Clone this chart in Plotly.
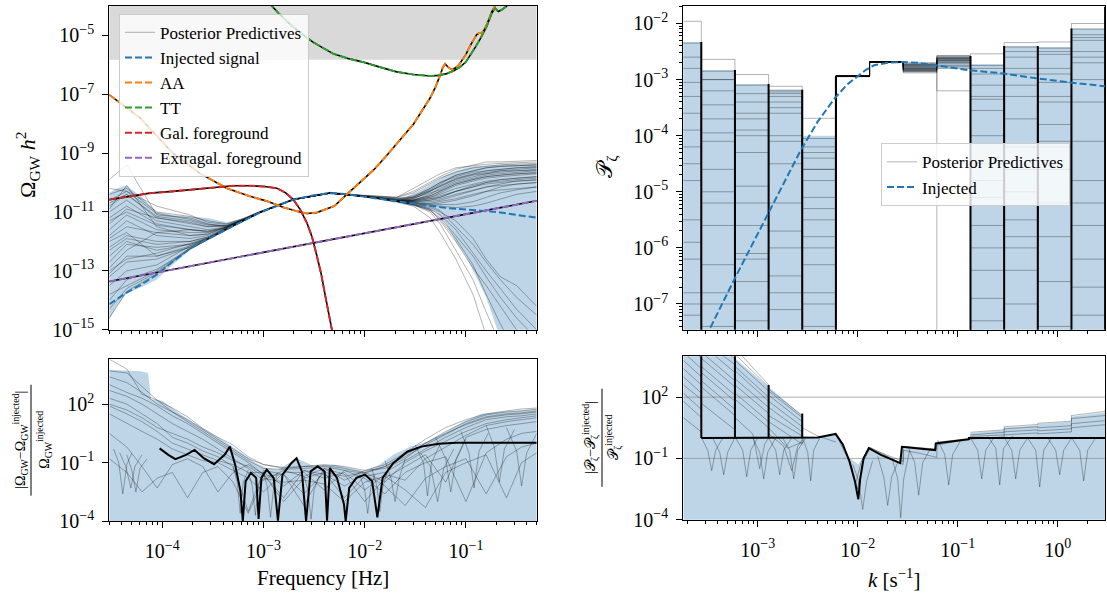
import plotly.graph_objects as go

W, H = 1107, 594
FONT = "Liberation Serif"

BLUE, ORANGE, GREEN, RED, PURPLE = "#1f77b4", "#ff7f0e", "#2ca02c", "#d62728", "#9467bd"
BAND = "rgb(189,213,231)"
SAMPLE = "rgba(0,0,0,0.3)"
SHADE = "rgb(217,217,217)"

# ---------------- Omega_GW h^2 panel (log10 values) ----------------
F_LO, F_HI = 3e-5, 0.5
OMEGA_SENS = 1.47e-6          # lower edge of the shaded region

inj_logf = [-4.523, -4.351, -4.2, -4.055, -3.9, -3.726, -3.55, -3.363, -3.2, -3.034, -2.85, -2.705,
            -2.5, -2.342, -2.2, -2.013, -1.85, -1.683, -1.5, -1.354, -1.2, -1.025, -0.85, -0.695, -0.5, -0.301]
inj_logO = [-14.13, -13.74, -13.45, -13.13, -12.7, -12.24, -11.92, -11.58, -11.3, -11.02, -10.76, -10.58,
            -10.43, -10.36, -10.39, -10.47, -10.55, -10.63, -10.72, -10.8, -10.86, -10.91, -10.96, -11.0, -11.1, -11.19]

aa_logf = [-4.523, -4.22, -3.89, -3.627, -3.363, -3.15, -2.968, -2.8, -2.639, -2.57, -2.474, -2.3, -2.177,
           -2.05, -1.914, -1.8, -1.683, -1.519, -1.354, -1.3, -1.255, -1.23, -1.206, -1.17, -1.14, -1.1,
           -1.074, -1.0, -0.959, -0.893, -0.87, -0.843, -0.82, -0.794, -0.744, -0.712, -0.68]
aa_logO = [-7.02, -7.8, -9.02, -9.69, -10.19, -10.45, -10.63, -10.85, -11.0, -11.05, -11.02, -10.8, -10.4,
           -10.0, -9.58, -9.15, -8.69, -8.02, -7.13, -6.75, -6.36, -6.1, -5.97, -6.1, -6.16, -6.1,
           -6.02, -5.65, -5.36, -4.97, -4.92, -4.91, -4.82, -4.63, -4.19, -4.0, -3.8]

tt_logf = [-2.95, -2.918, -2.85, -2.737, -2.62, -2.507, -2.4, -2.309, -2.15, -2.013, -1.85, -1.683, -1.52,
           -1.354, -1.27, -1.189, -1.12, -1.058, -1.0, -0.959, -0.91, -0.86, -0.794, -0.744, -0.712,
           -0.68, -0.645, -0.596, -0.56]
tt_logO = [-3.9, -4.0, -4.25, -4.63, -4.95, -5.24, -5.45, -5.63, -5.8, -5.91, -6.08, -6.24, -6.33,
           -6.38, -6.36, -6.3, -6.2, -6.08, -5.9, -5.69, -5.42, -5.13, -4.69, -4.24, -4.08,
           -4.19, -4.13, -4.0, -3.8]

gal_logf = [-4.523, -4.3, -4.121, -3.9, -3.627, -3.45, -3.298, -3.1, -2.97, -2.869, -2.78, -2.705, -2.64,
            -2.572, -2.52, -2.474, -2.43, -2.392, -2.325, -2.29]
gal_logO = [-10.58, -10.47, -10.36, -10.3, -10.22, -10.16, -10.11, -10.11, -10.14, -10.19, -10.35, -10.58,
            -10.9, -11.36, -11.85, -12.47, -13.1, -13.8, -14.97, -15.6]

exg_logf = [-4.523, -0.301]
exg_logO = [-13.36, -10.62]

band_logf = [-4.523, -4.45, -4.351, -4.2, -4.055, -3.9, -3.726, -3.55, -3.363, -3.2, -3.034, -2.8, -2.6,
             -2.4, -2.2, -2.0, -1.8, -1.6, -1.45, -1.3, -1.2, -1.1, -1.0, -0.9, -0.8, -0.7, -0.6, -0.45, -0.301]
band_up = [-10.35, -10.2, -10.1, -10.5, -11.0, -11.1, -11.15, -11.2, -11.35, -11.22, -10.98, -10.68, -10.48,
           -10.35, -10.36, -10.45, -10.5, -10.5, -10.25, -9.95, -9.75, -9.6, -9.5, -9.45, -9.42, -9.4,
           -9.38, -9.38, -9.36]
band_lo = [-14.65, -14.2, -13.75, -13.55, -13.3, -12.8, -12.3, -11.95, -11.6, -11.32, -11.04, -10.73, -10.52,
           -10.39, -10.4, -10.49, -10.62, -10.75, -10.85, -11.0, -11.4, -12.0, -12.5, -13.2, -13.9, -14.9,
           -16.0, -17.0, -17.0]

pp_logf = [-4.523, -4.351, -4.055, -3.726, -3.55, -3.363, -3.2, -3.034, -2.705, -2.342, -2.013, -1.683,
           -1.52, -1.354, -1.255, -1.1, -0.93, -0.8, -0.66, -0.5, -0.301]
pp_logO = [
    [-10.4, -10.2, -11.0, -11.15, -11.3, -11.4, -11.22, -10.98, -10.55, -10.33, -10.43, -10.5, -10.2, -9.9, -9.7, -9.5, -9.42, -9.38, -9.35, -9.32, -9.3],
    [-11.0, -10.6, -11.3, -11.5, -11.6, -11.5, -11.25, -11.0, -10.57, -10.35, -10.45, -10.55, -10.45, -10.2, -10.0, -9.8, -9.65, -9.6, -9.55, -9.5, -9.45],
    [-11.8, -11.3, -11.8, -11.9, -11.8, -11.55, -11.28, -11.01, -10.58, -10.36, -10.46, -10.6, -10.6, -10.5, -10.35, -10.1, -9.95, -9.85, -9.8, -9.75, -9.7],
    [-12.5, -12.0, -12.3, -12.1, -11.9, -11.57, -11.29, -11.02, -10.58, -10.36, -10.47, -10.62, -10.68, -10.72, -10.7, -10.6, -10.45, -10.3, -10.15, -10.05, -10.0],
    [-13.2, -12.7, -12.6, -12.2, -11.92, -11.58, -11.3, -11.02, -10.58, -10.36, -10.47, -10.63, -10.7, -10.78, -10.8, -10.85, -10.8, -10.7, -10.55, -10.4, -10.3],
    [-14.0, -13.3, -12.95, -12.25, -11.93, -11.58, -11.3, -11.02, -10.58, -10.36, -10.47, -10.64, -10.74, -10.9, -11.1, -11.6, -12.4, -13.0, -13.6, -14.3, -15.0],
    [-14.6, -13.7, -13.1, -12.26, -11.94, -11.59, -11.31, -11.02, -10.58, -10.36, -10.47, -10.65, -10.8, -11.2, -11.7, -12.6, -13.8, -15.2, -16.5, -17.5, -18.0],
    [-12.0, -11.7, -12.5, -12.2, -11.9, -11.57, -11.3, -11.02, -10.58, -10.36, -10.47, -10.63, -10.72, -10.9, -11.3, -12.0, -12.9, -13.5, -14.2, -15.0, -15.5],
    [-10.9, -10.1, -11.5, -11.8, -11.75, -11.5, -11.27, -11.01, -10.58, -10.36, -10.47, -10.6, -10.55, -10.3, -10.15, -9.9, -9.75, -9.7, -9.6, -9.6, -9.55],
    [-13.5, -13.0, -12.8, -12.15, -11.9, -11.57, -11.3, -11.02, -10.58, -10.36, -10.47, -10.64, -10.76, -11.0, -11.4, -12.3, -13.3, -14.4, -15.5, -16.5, -17.0],
    [-9.9, -9.4, -11.1, -11.2, -11.4, -11.5, -11.25, -11.0, -10.57, -10.35, -10.44, -10.5, -10.3, -10.0, -9.8, -9.55, -9.4, -9.3, -9.3, -9.28, -9.25],
    [-12.9, -12.3, -11.7, -11.6, -11.65, -11.52, -11.28, -11.01, -10.58, -10.36, -10.47, -10.61, -10.62, -10.55, -10.5, -10.3, -10.15, -10.0, -9.9, -9.85, -9.8],
    [-11.4, -10.9, -11.2, -11.35, -11.5, -11.45, -11.24, -10.99, -10.57, -10.35, -10.46, -10.58, -10.52, -10.35, -10.25, -10.0, -9.85, -9.75, -9.7, -9.65, -9.6],
    [-13.8, -13.5, -13.0, -12.23, -11.92, -11.58, -11.3, -11.02, -10.58, -10.36, -10.47, -10.64, -10.73, -10.85, -11.0, -11.3, -11.9, -12.6, -13.2, -13.5, -14.2],
    [-10.7, -10.4, -11.15, -11.3, -11.45, -11.47, -11.26, -11.0, -10.57, -10.35, -10.45, -10.56, -10.5, -10.25, -10.05, -9.75, -9.6, -9.5, -9.45, -9.42, -9.4],
    [-11.6, -11.1, -11.6, -11.7, -11.7, -11.52, -11.27, -11.01, -10.58, -10.36, -10.46, -10.59, -10.58, -10.45, -10.3, -10.05, -9.9, -9.8, -9.75, -9.7, -9.65],
    [-12.2, -11.8, -12.0, -12.0, -11.85, -11.56, -11.29, -11.02, -10.58, -10.36, -10.47, -10.61, -10.64, -10.6, -10.5, -10.3, -10.1, -10.0, -9.95, -9.9, -9.85],
    [-10.2, -10.3, -10.8, -11.1, -11.35, -11.42, -11.23, -10.99, -10.56, -10.34, -10.44, -10.52, -10.35, -10.05, -9.85, -9.65, -9.5, -9.45, -9.4, -9.37, -9.35],
    [-13.0, -12.6, -12.4, -12.05, -11.88, -11.57, -11.3, -11.02, -10.58, -10.36, -10.47, -10.63, -10.69, -10.74, -10.75, -10.75, -10.65, -10.5, -10.35, -10.25, -10.15],
    [-11.2, -10.8, -11.4, -11.6, -11.68, -11.53, -11.28, -11.01, -10.58, -10.36, -10.46, -10.57, -10.48, -10.28, -10.12, -9.88, -9.72, -9.65, -9.6, -9.55, -9.5],
    [-12.7, -12.1, -12.2, -12.1, -11.88, -11.56, -11.29, -11.02, -10.58, -10.36, -10.47, -10.62, -10.66, -10.65, -10.6, -10.45, -10.3, -10.15, -10.05, -9.95, -9.9],
    [-14.3, -13.6, -13.05, -12.25, -11.93, -11.58, -11.3, -11.02, -10.58, -10.36, -10.47, -10.64, -10.75, -10.95, -11.25, -11.9, -12.8, -13.8, -14.8, -15.8, -16.5],
]
# partial draws: high-frequency fan and low-frequency fan
pp_hi_logf = [-1.683, -1.52, -1.354, -1.255, -1.1, -0.93, -0.8, -0.66, -0.5, -0.301]
pp_hi_logO = [
    [-10.63, -10.6, -10.4, -10.2, -9.95, -9.8, -9.7, -9.65, -9.6, -9.58],
    [-10.62, -10.55, -10.3, -10.1, -9.85, -9.7, -9.6, -9.55, -9.5, -9.48],
    [-10.63, -10.62, -10.5, -10.4, -10.2, -10.05, -9.95, -9.9, -9.85, -9.8],
    [-10.63, -10.66, -10.6, -10.55, -10.4, -10.25, -10.15, -10.1, -10.05, -10.0],
    [-10.64, -10.7, -10.7, -10.65, -10.55, -10.4, -10.3, -10.25, -10.2, -10.15],
    [-10.62, -10.5, -10.2, -10.0, -9.75, -9.6, -9.5, -9.45, -9.42, -9.4],
    [-10.63, -10.64, -10.55, -10.45, -10.3, -10.15, -10.05, -10.0, -9.95, -9.92],
    [-10.64, -10.75, -10.95, -11.2, -11.8, -12.5, -13.2, -13.9, -14.6, -15.3],
    [-10.64, -10.72, -10.8, -10.95, -11.5, -12.1, -12.7, -13.3, -13.9, -14.5],
    [-10.63, -10.6, -10.45, -10.3, -10.05, -9.9, -9.8, -9.75, -9.7, -9.68],
]
pp_lo_logf = [-4.523, -4.351, -4.055, -3.726, -3.55, -3.363, -3.2, -3.034]
pp_lo_logO = [
    [-10.8, -10.4, -11.2, -11.4, -11.5, -11.48, -11.26, -11.0],
    [-11.9, -11.5, -11.7, -11.8, -11.75, -11.54, -11.28, -11.01],
    [-12.3, -11.9, -12.1, -12.0, -11.85, -11.56, -11.29, -11.02],
    [-13.1, -12.5, -12.5, -12.15, -11.9, -11.57, -11.3, -11.02],
    [-10.6, -10.3, -11.05, -11.25, -11.42, -11.46, -11.25, -11.0],
    [-11.3, -11.0, -11.45, -11.6, -11.65, -11.52, -11.28, -11.01],
]

# ---------------- Omega_GW relative residual (log10 values) ----------------
blr_band_logf = [-4.523, -4.216, -4.14, -4.11, -4.0, -3.80, -3.59, -3.38, -3.21, -3.08, -2.97, -2.86, -2.67,
                 -2.5, -2.3, -2.0, -1.85, -1.72, -1.55, -1.38, -1.2, -1.03, -0.85, -0.68, -0.3]
blr_band_up = [3.76, 3.68, 3.6, 2.25, 2.17, 1.41, 0.74, 0.07, -0.52, -1.0, -1.28, -1.36, -0.77,
               -1.19, -1.1, -1.45, -1.1, -0.6, -0.18, 0.07, 0.57, 1.08, 1.5, 1.58, 1.75]

blr_med_logf = [-4.026, -3.94, -3.87, -3.765, -3.68, -3.59, -3.488, -3.384, -3.332, -3.28, -3.228, -3.204,
                -3.176, -3.124, -3.072, -3.048, -3.02, -2.968, -2.899, -2.857, -2.812, -2.725, -2.673,
                -2.621, -2.579, -2.534, -2.465, -2.396, -2.372, -2.344, -2.274, -2.205, -2.188, -2.153,
                -2.083, -1.997, -1.927, -1.875, -1.823, -1.719, -1.58, -1.442, -1.268, -1.095, -0.301]
blr_med_logR = [-0.27, -0.6, -0.82, -0.6, -0.35, -0.77, -1.08, -0.6, -0.18, -1.1, -2.45, -4.0,
                -1.95, -1.53, -1.78, -3.88, -1.78, -1.36, -1.78, -3.97, -1.61, -1.03, -0.77,
                -1.45, -4.0, -1.45, -1.19, -1.45, -3.97, -1.28, -1.78, -3.13, -4.0, -2.29,
                -1.78, -1.61, -1.95, -3.8, -1.78, -1.03, -0.44, -0.18, -0.03, 0.02, 0.02]

blr_logf = [-4.523, -4.35, -4.2, -4.05, -3.9, -3.75, -3.6, -3.45, -3.3, -3.15, -3.0, -2.8, -2.6, -2.4,
            -2.2, -2.0, -1.8, -1.6, -1.4, -1.2, -1.0, -0.8, -0.6, -0.45, -0.301]
blr_logR = [
    [3.7, 3.6, 2.9, 2.2, 1.8, 1.35, 0.75, 0.3, -0.1, -0.7, -1.1, -1.3, -1.2, -1.15, -1.3, -1.5, -1.2, -0.6, 0.0, 0.6, 1.1, 1.45, 1.6, 1.65, 1.75],
    [3.0, 2.6, 2.3, 1.9, 1.4, 1.0, 0.5, 0.0, -0.5, -1.0, -1.6, -3.0, -1.8, -1.5, -2.8, -1.7, -1.5, -0.9, -0.3, 0.3, 0.8, 1.2, 1.35, 1.4, 1.5],
    [2.3, 2.0, 1.5, 1.0, 0.3, 0.0, -0.4, -0.7, -1.2, -3.5, -1.4, -1.6, -3.2, -1.3, -1.6, -3.0, -1.8, -1.2, -0.6, -2.0, 0.3, 0.7, 0.9, 1.0, 1.1],
    [1.5, 1.0, 0.6, 0.2, -0.3, -0.6, -0.9, -1.0, -1.4, -1.8, -2.5, -1.5, -1.5, -2.4, -1.4, -1.8, -2.6, -1.5, -1.0, -0.7, -3.0, -0.5, 0.2, 0.5, 0.6],
    [0.5, -0.2, -1.2, -2.3, -1.1, -0.8, -1.2, -2.5, -1.5, -1.1, -1.6, -2.8, -1.4, -1.6, -2.2, -1.6, -2.2, -3.2, -1.8, -1.2, -0.8, -2.6, -0.7, -0.2, 0.0],
    [-0.8, -1.5, -2.5, -1.8, -1.5, -2.8, -1.5, -1.2, -2.0, -3.6, -1.8, -2.0, -1.9, -2.1, -3.0, -2.0, -1.7, -2.4, -3.3, -1.5, -1.0, -0.6, -2.8, -1.0, -0.5],
    [4.3, 3.8, 2.5, 2.2, 1.6, 1.2, 0.7, 0.2, -0.3, -0.8, -1.1, -1.25, -1.2, -1.1, -1.2, -1.4, -1.1, -0.5, 0.2, 0.8, 1.2, 1.5, 1.65, 1.75, 1.8],
    [2.7, 2.4, 2.0, 1.5, 1.0, 0.6, 0.2, -0.3, -0.8, -1.3, -1.9, -1.4, -1.7, -1.3, -1.9, -1.4, -1.3, -0.8, 0.0, 0.5, 0.95, 1.3, 1.45, 1.5, 1.6],
    [1.9, 1.5, 1.1, 0.6, 0.0, -0.3, -0.6, -0.9, -1.1, -1.5, -1.5, -2.2, -1.4, -1.8, -1.5, -2.4, -1.6, -1.9, -0.8, -0.2, 0.4, 0.9, 1.1, 1.2, 1.3],
    [3.4, 3.1, 2.6, 2.0, 1.6, 1.1, 0.6, 0.1, -0.4, -0.9, -1.3, -1.35, -1.3, -1.2, -1.4, -1.55, -1.2, -0.7, -0.1, 0.45, 1.0, 1.35, 1.5, 1.55, 1.65],
    [2.0, 1.7, 1.3, 0.8, 0.5, 0.2, -0.2, -0.5, -0.9, -1.2, -1.7, -1.6, -2.6, -1.5, -1.7, -1.5, -2.0, -1.0, -0.4, 0.1, 0.6, 1.0, 1.2, 1.3, 1.4],
]
blr_arcs = [
    [(-4.48, -0.3), (-4.43, -1.0), (-4.39, -2.6), (-4.35, -1.1), (-4.3, -0.5)],
    [(-4.42, -0.5), (-4.36, -1.2), (-4.31, -2.3), (-4.27, -1.2), (-4.2, -0.6)],
    [(-4.35, -0.6), (-4.30, -1.4), (-4.26, -2.5), (-4.22, -1.3), (-4.15, -0.8)],
    [(-3.30, -1.2), (-3.26, -2.0), (-3.23, -3.6), (-3.2, -2.0), (-3.15, -1.4)],
    [(-3.15, -1.5), (-3.11, -2.2), (-3.08, -3.7), (-3.05, -2.2), (-3.0, -1.5)],
    [(-3.0, -1.5), (-2.96, -2.3), (-2.93, -3.8), (-2.9, -2.3), (-2.86, -1.5)],
    [(-2.6, -1.7), (-2.56, -2.4), (-2.53, -3.9), (-2.5, -2.4), (-2.45, -1.7)],
    [(-2.05, -1.6), (-2.0, -2.4), (-1.97, -3.6), (-1.94, -2.3), (-1.9, -1.6)],
    [(-1.93, -1.3), (-1.88, -2.2), (-1.85, -3.5), (-1.82, -2.2), (-1.76, -1.2)],
    [(-1.8, -0.9), (-1.74, -1.8), (-1.7, -3.0), (-1.66, -1.8), (-1.6, -0.8)],
    [(-1.5, -0.1), (-1.42, -1.0), (-1.38, -2.7), (-1.34, -1.0), (-1.25, 0.0)],
    [(-1.45, -0.5), (-1.35, -1.2), (-1.28, -3.0), (-1.22, -1.3), (-1.12, -0.3)],
    [(-1.3, 0.3), (-1.2, -0.8), (-1.15, -2.5), (-1.1, -0.9), (-1.0, 0.2)],
    [(-1.05, 0.6), (-0.97, -0.5), (-0.92, -2.3), (-0.87, -0.4), (-0.78, 0.5)],
    [(-0.8, 0.9), (-0.72, -0.2), (-0.67, -2.0), (-0.62, -0.3), (-0.52, 0.7)],
    [(-0.6, 0.8), (-0.5, -0.4), (-0.45, -2.2), (-0.4, -0.5), (-0.3, 0.5)],
]

# ---------------- P_zeta panel (log10 values) ----------------
K_LO_LOG, K_HI_LOG = -3.744, 0.473
k_edges = [-3.90, -3.564, -3.2275, -2.891, -2.5545, -2.218, -1.8815, -1.545, -1.2085, -0.872,
           -0.5355, -0.199, 0.1375, 0.474, 0.60]
pz_band_up = [-2.33, -2.83, -3.08, -3.18, -4.0, -2.93, -2.68, -2.70, -2.58, -2.72, -2.40, -2.42, -2.09, -2.0]
pz_band_lo = [-9.0, -9.0, -9.0, -9.0, -9.0, -2.95, -2.70, -2.87, -2.80, -9.0, -9.0, -9.0, -9.0, -9.0]
pz_samples = [
    [-1.96, -2.64, -2.91, -3.12, -3.69, -2.94, -2.68, -2.70, -2.57, -2.54, -2.34, -2.33, -2.00, -1.8],
    [-2.35, -2.85, -3.10, -3.19, -4.05, -2.93, -2.69, -2.74, -2.62, -2.75, -2.42, -2.44, -2.10, -2.1],
    [-3.05, -3.95, -5.20, -3.50, -4.80, -2.94, -2.68, -2.85, -2.80, -3.55, -4.20, -3.05, -2.60, -2.5],
    [-4.20, -3.45, -4.30, -6.00, -5.50, -2.94, -2.69, -2.80, -2.62, -4.50, -3.30, -5.20, -3.40, -3.0],
    [-5.50, -6.30, -3.70, -4.50, -6.80, -2.93, -2.69, -2.72, -2.60, -6.00, -5.50, -2.80, -4.80, -5.0],
    [-6.80, -5.00, -6.60, -5.20, -4.30, -2.94, -2.69, -2.88, -2.75, -5.10, -6.40, -4.10, -6.20, -3.5],
    [-7.20, -7.00, -6.10, -7.10, -5.80, -2.95, -2.68, -2.78, -2.66, -6.90, -2.90, -6.60, -5.60, -6.0],
    [-8.50, -9.00, -8.00, -8.20, -9.00, -2.94, -2.69, -2.83, -2.58, -8.50, -9.00, -8.30, -8.80, -8.0],
    [-3.60, -4.60, -4.00, -3.30, -6.30, -2.94, -2.68, -2.74, -2.70, -3.10, -5.00, -3.80, -2.30, -4.0],
    [-6.20, -5.60, -7.30, -6.50, -7.40, -2.93, -2.69, -2.81, -9.00, -7.30, -7.00, -7.40, -7.20, -7.0],
    [-2.80, -3.20, -3.40, -3.25, -4.40, -2.94, -2.68, -2.76, -2.64, -2.90, -2.60, -2.55, -2.25, -2.4],
    [-4.80, -4.10, -5.60, -4.00, -5.10, -2.94, -2.69, -2.86, -2.72, -4.00, -3.70, -4.60, -4.10, -4.5],
    [-5.90, -6.80, -4.90, -5.70, -6.00, -2.93, -2.68, -2.79, -2.68, -5.60, -4.60, -5.80, -3.00, -5.5],
    [-7.00, -7.40, -7.00, -4.10, -7.00, -2.94, -2.69, -2.84, -2.77, -6.40, -6.00, -3.40, -6.70, -6.5],
    [-3.30, -5.20, -3.90, -3.60, -5.30, -2.94, -2.69, -2.73, -2.63, -3.35, -2.80, -4.20, -2.70, -3.2],
    [-4.50, -3.00, -6.20, -6.80, -4.60, -2.93, -2.68, -2.82, -3.20, -4.80, -5.80, -2.90, -5.20, -4.8],
    [-2.60, -3.00, -3.25, -3.22, -4.20, -2.94, -2.69, -2.77, -2.61, -2.80, -2.50, -2.50, -2.20, -2.3],
    [-8.00, -8.20, -8.50, -7.80, -8.60, -2.93, -2.68, -2.80, -2.65, -8.00, -8.40, -7.90, -8.20, -8.5],
    [-3.90, -3.70, -3.60, -3.40, -4.60, -2.94, -2.69, -2.75, -2.66, -3.30, -3.10, -3.30, -2.50, -2.8],
    [-7.80, -8.60, -7.60, -8.80, -8.20, -2.94, -2.69, -2.83, -2.69, -7.70, -8.10, -8.70, -7.90, -7.5],
]
# bin edges where many draws jump: (log10 k, log10 top of the jump)
pz_edge_tops = [(-3.564, -2.33), (-3.2275, -2.83), (-2.891, -3.08), (-2.5545, -3.18), (-2.218, -2.94),
                (-0.872, -2.58), (-0.5355, -2.40), (-0.199, -2.40), (0.1375, -2.09), (0.474, -1.7)]
pz_inj_logk = [-3.55, -3.484, -3.232, -2.901, -2.569, -2.4, -2.227, -2.1, -2.011, -1.92, -1.837, -1.7,
               -1.557, -1.4, -1.219, -0.888, -0.546, -0.214, 0.123, 0.473]
pz_inj_logP = [-7.75, -7.46, -6.555, -5.42, -4.257, -3.75, -3.326, -3.08, -2.948, -2.83, -2.745, -2.7,
               -2.686, -2.7, -2.745, -2.832, -2.89, -2.977, -3.05, -3.12]

# ---------------- P_zeta relative residual (log10 values) ----------------
pzr_band_logk = [-3.744, -3.564, -3.2275, -2.891, -2.5545, -2.5545, -2.4, -2.221, -2.1, -1.994, -1.889,
                 -1.7, -1.575, -1.558, -1.383, -1.219, -1.219, -0.888, -0.872, -0.5355, -0.5355, -0.199,
                 -0.199, 0.1375, 0.1375, 0.477]
pzr_band_up = [5.0, 5.0, 3.9, 2.5, 1.1, 0.1, 0.05, 0.2, -0.9, -1.3, -0.5, -0.9, -1.2, -0.43, -0.5, -0.58,
               -0.27, -0.05, 0.25, 0.38, 0.5, 0.62, 0.68, 0.8, 1.05, 1.25]
pzr_med = [(-3.564, 0.0), (-2.535, 0.0), (-2.4, 0.02), (-2.221, 0.2), (-2.15, -0.3), (-2.081, -1.15),
           (-2.029, -2.1), (-1.994, -3.0), (-1.975, -2.0), (-1.941, -1.0), (-1.889, -0.5), (-1.767, -0.83),
           (-1.662, -1.07), (-1.575, -1.23), (-1.558, -0.43), (-1.383, -0.51), (-1.226, -0.59),
           (-1.219, -0.27), (-0.888, -0.06), (-0.888, 0.0), (0.477, 0.0)]
pzr_edges = [(-3.564, 4.4), (-3.2275, 4.1), (-2.891, 2.6), (-2.5545, 1.2)]
pzr_lines = [
    [(-3.744, 5.0), (-3.564, 4.3), (-3.564, 5.0), (-3.2275, 3.9), (-3.2275, 4.4), (-2.891, 2.6), (-2.891, 2.4), (-2.5545, 1.1), (-2.5545, 0.5), (-2.4, 0.1), (-2.218, -0.2)],
    [(-3.744, 4.6), (-3.564, 3.9), (-3.564, 4.8), (-3.2275, 3.6), (-3.2275, 4.1), (-2.891, 2.5), (-2.891, 2.3), (-2.5545, 1.0), (-2.5545, 0.0)],
    [(-3.744, 4.2), (-3.564, 3.4), (-3.564, 4.6), (-3.2275, 3.2), (-3.2275, 3.8), (-2.891, 2.3), (-2.891, 2.1), (-2.5545, 0.8), (-2.5545, 0.0)],
    [(-3.744, 3.8), (-3.564, 3.0), (-3.564, 4.2), (-3.2275, 2.8), (-3.2275, 3.5), (-2.891, 2.0), (-2.891, 1.8), (-2.5545, 0.55), (-2.5545, 0.0)],
    [(-3.744, 3.4), (-3.564, 2.6), (-3.564, 3.9), (-3.2275, 2.5), (-3.2275, 3.3), (-2.891, 1.8), (-2.891, 1.5), (-2.5545, 0.3), (-2.5545, 0.0)],
    [(-3.744, 3.0), (-3.564, 2.2), (-3.564, 3.5), (-3.2275, 2.1), (-3.2275, 2.9), (-2.891, 1.5), (-2.891, 1.1), (-2.5545, 0.1), (-2.5545, 0.0)],
    [(-3.744, 2.6), (-3.564, 1.9), (-3.564, 3.2), (-3.2275, 1.8), (-3.2275, 2.6), (-2.891, 1.2), (-2.891, 0.8), (-2.5545, -0.3), (-2.5545, 0.0)],
    [(-3.744, 2.2), (-3.564, 1.4), (-3.564, 2.8), (-3.2275, 1.4), (-3.2275, 2.2), (-2.891, 0.8), (-2.891, 0.5), (-2.7, -0.5), (-2.5545, -0.2)],
    [(-3.744, 1.8), (-3.564, 1.0), (-3.564, 2.5), (-3.2275, 1.1), (-3.2275, 1.9), (-2.891, 0.5), (-2.891, 0.2), (-2.74, -0.4), (-2.66, -1.6), (-2.6, -0.4), (-2.5545, -0.1)],
    [(-3.744, 1.0), (-3.564, 0.3), (-3.564, 1.7), (-3.2275, 0.4), (-3.2275, 1.0), (-3.05, 0.2), (-2.98, -1.5), (-2.93, -0.3), (-2.891, 0.0)],
    [(-2.218, 0.25), (-2.1, -0.9), (-2.0, -2.5), (-1.95, -1.2), (-1.8815, -0.55), (-1.8815, -0.48), (-1.7, -0.85), (-1.545, -1.15), (-1.545, -0.4), (-1.38, -0.47), (-1.2085, -0.55), (-1.2085, -0.2), (-0.872, -0.03)],
    [(-2.218, 0.18), (-2.1, -1.0), (-2.02, -2.2), (-1.96, -1.1), (-1.8815, -0.5), (-1.8815, -0.45), (-1.7, -0.9), (-1.545, -1.3), (-1.545, -0.6), (-1.38, -0.75), (-1.2085, -0.95), (-1.2085, -0.35), (-1.05, -0.2), (-0.872, -0.08)],
    [(-0.872, 0.28), (-0.5355, 0.4), (-0.5355, 0.55), (-0.199, 0.66), (-0.199, 0.72), (0.1375, 0.82), (0.1375, 1.1), (0.474, 1.3), (0.474, 1.4)],
    [(-0.872, 0.15), (-0.5355, 0.28), (-0.5355, 0.45), (-0.199, 0.55), (-0.199, 0.5), (0.1375, 0.6), (0.1375, 0.95), (0.474, 1.1)],
    [(-0.872, 0.08), (-0.5355, 0.15), (-0.5355, 0.3), (-0.199, 0.4), (-0.199, 0.35), (0.1375, 0.45), (0.1375, 0.7), (0.474, 0.85)],
    [(-0.888, -0.06), (-0.5355, 0.05), (-0.5355, 0.15), (-0.199, 0.25), (-0.199, 0.2), (0.1375, 0.3), (0.1375, 0.5), (0.474, 0.65)],
]
pzr_arcs = [
    [(-3.56, 0.0), (-3.5, -0.6), (-3.46, -1.6), (-3.42, -0.6), (-3.35, 0.0)],
    [(-3.45, 0.0), (-3.38, -0.7), (-3.34, -1.8), (-3.3, -0.7), (-3.23, 0.0)],
    [(-3.22, 0.0), (-3.15, -0.6), (-3.11, -1.9), (-3.07, -0.6), (-3.0, 0.0)],
    [(-3.05, 0.0), (-2.98, -0.7), (-2.94, -2.0), (-2.9, -0.7), (-2.82, 0.0)],
    [(-2.89, 0.0), (-2.82, -0.6), (-2.78, -1.8), (-2.74, -0.6), (-2.66, 0.0)],
    [(-2.75, 0.0), (-2.68, -0.6), (-2.64, -2.0), (-2.6, -0.6), (-2.52, 0.0)],
    [(-2.55, 0.0), (-2.5, -0.7), (-2.47, -2.1), (-2.44, -0.6), (-2.38, 0.0)],
    [(-2.05, -1.3), (-1.99, -2.1), (-1.95, -3.5), (-1.91, -2.1), (-1.85, -1.1)],
    [(-1.8, -0.9), (-1.74, -1.9), (-1.7, -3.3), (-1.66, -1.9), (-1.6, -1.2)],
    [(-1.65, -1.1), (-1.6, -2.0), (-1.57, -3.9), (-1.54, -2.0), (-1.48, -0.6)],
    [(-1.5, -0.4), (-1.43, -1.2), (-1.39, -2.8), (-1.35, -1.2), (-1.27, -0.5)],
    [(-1.2, -0.1), (-1.13, -0.8), (-1.09, -2.3), (-1.05, -0.8), (-0.96, -0.05)],
    [(-0.87, 0.0), (-0.8, -0.6), (-0.76, -2.0), (-0.72, -0.6), (-0.64, 0.0)],
    [(-0.7, 0.1), (-0.62, -0.5), (-0.58, -2.3), (-0.54, -0.5), (-0.45, 0.1)],
    [(-0.53, 0.0), (-0.46, -0.6), (-0.42, -2.0), (-0.38, -0.6), (-0.3, 0.0)],
    [(-0.3, 0.0), (-0.22, -0.6), (-0.18, -2.4), (-0.14, -0.6), (-0.06, 0.0)],
    [(-0.1, 0.0), (-0.02, -0.6), (0.02, -1.8), (0.06, -0.6), (0.14, 0.0)],
    [(0.14, 0.0), (0.22, -0.6), (0.26, -2.1), (0.3, -0.6), (0.38, 0.0)],
]
RESID_GUIDES = [100.0, 0.1]


def pw(v):
    return [10.0 ** t for t in v]


def step_y(vals):
    return pw(vals + [vals[-1]])


fig = go.Figure()


def add(x, y, ax, color=SAMPLE, width=1.0, dash="solid", shape="linear", name=None,
        legend=None, rank=None, fill=None, fillcolor=None):
    fig.add_trace(go.Scatter(
        x=x, y=y, mode="lines", xaxis="x" + ax, yaxis="y" + ax, hoverinfo="skip",
        line=dict(color=color, width=width, dash=dash, shape=shape),
        fill=fill, fillcolor=fillcolor, name=name,
        showlegend=name is not None, legend=legend or "legend",
        legendrank=rank if rank is not None else 1000))


# ---- top-left: Omega_GW h^2 ----
add([F_LO, F_HI, F_HI, F_LO, F_LO], [OMEGA_SENS, OMEGA_SENS, 1e-3, 1e-3, OMEGA_SENS], "",
    color="rgba(0,0,0,0)", width=0, fill="toself", fillcolor=SHADE)
add(pw(band_logf), pw(band_lo), "", color="rgba(0,0,0,0)", width=0)
add(pw(band_logf), pw(band_up), "", color="rgba(0,0,0,0)", width=0, fill="tonexty", fillcolor=BAND)
for i, s in enumerate(pp_logO):
    add(pw(pp_logf), pw(s), "", name="Posterior Predictives" if i == 0 else None, rank=1)
for s in pp_hi_logO:
    add(pw(pp_hi_logf), pw(s), "")
for s in pp_lo_logO:
    add(pw(pp_lo_logf), pw(s), "")
for lf, lo in [(aa_logf, aa_logO), (tt_logf, tt_logO), (gal_logf, gal_logO), (exg_logf, exg_logO)]:
    add(pw(lf), pw(lo), "", color="black", width=1.6)
DASH = "7px,3px"
add(pw(inj_logf), pw(inj_logO), "", color=BLUE, width=2, dash=DASH, name="Injected signal", rank=2)
add(pw(aa_logf), pw(aa_logO), "", color=ORANGE, width=2, dash=DASH, name="AA", rank=3)
add(pw(tt_logf), pw(tt_logO), "", color=GREEN, width=2, dash=DASH, name="TT", rank=4)
add(pw(gal_logf), pw(gal_logO), "", color=RED, width=2, dash=DASH, name="Gal. foreground", rank=5)
add(pw(exg_logf), pw(exg_logO), "", color=PURPLE, width=2, dash=DASH, name="Extragal. foreground", rank=6)

# ---- bottom-left: relative residual of Omega_GW ----
add(pw(blr_band_logf), [1e-6] * len(blr_band_logf), "2", color="rgba(0,0,0,0)", width=0)
add(pw(blr_band_logf), pw(blr_band_up), "2", color="rgba(0,0,0,0)", width=0, fill="tonexty", fillcolor=BAND)
for s in blr_logR:
    add(pw(blr_logf), pw(s), "2")
for arc in blr_arcs:
    add(pw([p[0] for p in arc]), pw([p[1] for p in arc]), "2")
add(pw(blr_med_logf), pw(blr_med_logR), "2", color="black", width=2)

# ---- top-right: P_zeta ----
add(pw(k_edges), step_y(pz_band_lo), "3", color="rgba(0,0,0,0)", width=0, shape="hv")
add(pw(k_edges), step_y(pz_band_up), "3", color="rgba(0,0,0,0)", width=0, shape="hv",
    fill="tonexty", fillcolor=BAND)
for i, s in enumerate(pz_samples):
    add(pw(k_edges), step_y(s), "3", shape="hv", color="rgba(0,0,0,0.3)",
        name="Posterior Predictives" if i == 0 else None, legend="legend2", rank=1)
for lk, top in pz_edge_tops:
    add([10 ** lk, 10 ** lk], [1e-9, 10 ** top], "3", color="black", width=2)
add(pw(pz_inj_logk), pw(pz_inj_logP), "3", color=BLUE, width=2, dash=DASH,
    name="Injected", legend="legend2", rank=2)

# ---- bottom-right: relative residual of P_zeta ----
add(pw(pzr_band_logk), [1e-6] * len(pzr_band_logk), "4", color="rgba(0,0,0,0)", width=0)
add(pw(pzr_band_logk), pw(pzr_band_up), "4", color="rgba(0,0,0,0)", width=0, fill="tonexty", fillcolor=BAND)
for g in RESID_GUIDES:
    add([10 ** K_LO_LOG, 10 ** K_HI_LOG], [g, g], "4", color="rgba(140,140,140,0.7)", width=1)
for ln in pzr_lines + pzr_arcs:
    add(pw([p[0] for p in ln]), pw([p[1] for p in ln]), "4")
for lk, top in pzr_edges:
    add([10 ** lk, 10 ** lk], [1.0, 10 ** top], "4", color="black", width=2)
add(pw([p[0] for p in pzr_med]), pw([p[1] for p in pzr_med]), "4", color="black", width=2)


# ---- axes ----
def sup(n):
    return "10<sup>%s</sup>" % (str(n).replace("-", "\u2212"))


def minor_vals(d0, d1):
    return [m * 10.0 ** d for d in range(d0, d1) for m in range(2, 10)]


def axis(domain, rng, anchor, major, labels=True, minor=None, standoff=6):
    d = dict(domain=domain, range=rng, anchor=anchor, type="log",
             showline=True, mirror=True, linecolor="black", linewidth=1.2,
             ticks="outside", ticklen=6, tickwidth=1.1, tickcolor="black",
             showgrid=False, zeroline=False,
             tickmode="array", tickvals=[10.0 ** e for e in major],
             ticktext=[sup(e) for e in major], showticklabels=labels,
             ticklabelstandoff=standoff,
             tickfont=dict(family=FONT, size=20, color="black"))
    if minor:
        d["minor"] = dict(tickmode="array", tickvals=minor, ticks="outside", ticklen=3,
                          tickwidth=0.9, tickcolor="black", showgrid=False)
    return d


XL = [109.3 / W, 536.7 / W]
XR = [683.3 / W, 1105.0 / W]
YT = [1 - 336 / H, 1 - 6 / H]
YBL = [1 - 531 / H, 1 - 366 / H]
YBR = [1 - 529.5 / H, 1 - 363 / H]
f_rng = [-4.5229, -0.3010]
k_rng = [K_LO_LOG, K_HI_LOG]

LEG = dict(xanchor="left", yanchor="top", traceorder="normal",
           bgcolor="rgba(255,255,255,0.8)", bordercolor="rgb(204,204,204)", borderwidth=1,
           font=dict(family=FONT, size=17, color="black"), tracegroupgap=0, itemwidth=30)

fig.update_layout(
    width=W, height=H, margin=dict(l=0, r=0, t=0, b=0),
    paper_bgcolor="white", plot_bgcolor="white",
    font=dict(family=FONT, color="black"),
    xaxis=axis(XL, f_rng, "y", [-4, -3, -2, -1], labels=False, minor=minor_vals(-5, 0)),
    yaxis=axis(YT, [-15, -4], "x", [-15, -13, -11, -9, -7, -5], standoff=4),
    xaxis2=axis(XL, f_rng, "y2", [-4, -3, -2, -1], minor=minor_vals(-5, 0)),
    yaxis2=axis(YBL, [-4, 4.3], "x2", [-4, -1, 2], standoff=4),
    xaxis3=axis(XR, k_rng, "y3", [-3, -2, -1, 0], labels=False, minor=minor_vals(-4, 1)),
    yaxis3=axis(YT, [-7.46, -1.686], "x3", [-7, -6, -5, -4, -3, -2], minor=minor_vals(-8, -1), standoff=4),
    xaxis4=axis(XR, k_rng, "y4", [-3, -2, -1, 0], minor=minor_vals(-4, 1)),
    yaxis4=axis(YBR, [-4, 4.0], "x4", [-4, -1, 2], standoff=4),
    legend=dict(LEG, x=119 / W, y=1 - 14 / H),
    legend2=dict(LEG, x=881 / W, y=1 - 146 / H),
)


# ---- axis titles ----
def note(text, x, y, size, angle=0):
    fig.add_annotation(text=text, x=x / W, y=1 - y / H, xref="paper", yref="paper",
                       showarrow=False, textangle=angle, xanchor="center", yanchor="middle",
                       font=dict(family=FONT, size=size, color="black"))


note("\u03a9<sub>GW</sub> <i>h</i><sup>2</sup>", 28, 168, 22, -90)
note("\U0001d4ab<sub>\u03b6</sub>", 606, 170, 22, -90)
note("Frequency [Hz]", 323, 589, 21)
note("<i>k</i> [s<sup>\u22121</sup>]", 894, 589, 21)

note("|\u03a9<sub>GW</sub>\u2212\u03a9<sub>GW</sub><sup>injected</sup>|", 20, 448, 14, -90)
note("\u03a9<sub>GW</sub><sup>injected</sup>", 44, 448, 14, -90)
fig.add_shape(type="line", xref="paper", yref="paper", x0=31 / W, x1=31 / W,
              y0=1 - 392 / H, y1=1 - 505 / H, line=dict(color="black", width=1))

note("|\U0001d4ab<sub>\u03b6</sub>\u2212\U0001d4ab<sub>\u03b6</sub><sup>injected</sup>|", 591, 446, 14, -90)
note("\U0001d4ab<sub>\u03b6</sub><sup>injected</sup>", 614, 446, 14, -90)
fig.add_shape(type="line", xref="paper", yref="paper", x0=602 / W, x1=602 / W,
              y0=1 - 396 / H, y1=1 - 496 / H, line=dict(color="black", width=1))

fig.write_html("out.html")
